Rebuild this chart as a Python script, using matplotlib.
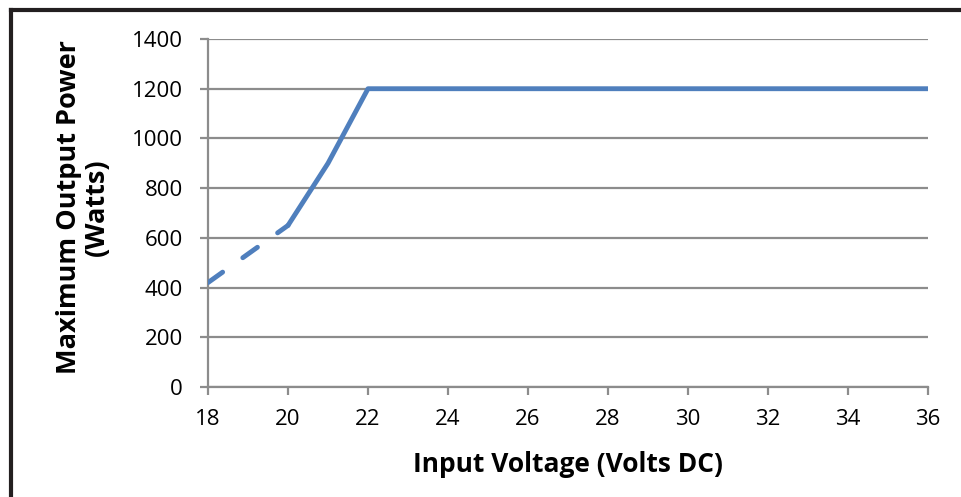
import matplotlib.pyplot as plt
from matplotlib.lines import Line2D

plt.rcParams['font.family'] = ['Open Sans', 'DejaVu Sans']

# data
volts_dash = [18, 19, 20]
power_dash = [420, 535, 650]
volts_solid = [20, 21, 22, 36]
power_solid = [650, 900, 1200, 1200]

xticks = list(range(18, 37, 2))
yticks = list(range(0, 1401, 200))

fig = plt.figure(figsize=(9.62, 4.97), dpi=100)
ax = fig.add_axes([208/962, 1-387/497, 720/962, 348/497])

blue = '#4f7fbd'
grey = '#8c8c8c'
ax.plot(volts_dash, power_dash, color=blue, lw=3.5, ls=(0, (3.7, 5.1)),
        solid_capstyle='round', dash_capstyle='round', zorder=3)
ax.plot(volts_solid, power_solid, color=blue, lw=3.5,
        solid_capstyle='round', solid_joinstyle='round', zorder=3)

ax.set_xlim(18, 36)
ax.set_ylim(0, 1400)
ax.set_xticks(xticks)
ax.set_yticks(yticks)
ax.grid(axis='y', color=grey, lw=1.6)
ax.set_axisbelow(True)
for s in ['top', 'right']:
    ax.spines[s].set_visible(False)
for s in ['left', 'bottom']:
    ax.spines[s].set_color(grey)
    ax.spines[s].set_linewidth(1.6)
ax.tick_params(axis='both', colors=grey, width=1.6, length=6, labelsize=16,
               labelcolor='black')
ax.tick_params(axis='x', pad=10)
ax.tick_params(axis='y', pad=12)

fig.text(568/962, 1-465/497, 'Input Voltage (Volts DC)', ha='center', va='center',
         fontsize=19, fontweight='bold')
fig.text(83/962, 1-207/497, 'Maximum Output Power\n(Watts)', ha='center', va='center',
         rotation=90, fontsize=19.5, fontweight='bold', linespacing=1.05)

# frame lines
fig.add_artist(Line2D([11/962, 1], [1-10/497, 1-10/497], color='#231f20', lw=3))
fig.add_artist(Line2D([11/962, 11/962], [1-10/497, 0], color='#231f20', lw=3))

fig.savefig('out.png', dpi=100)
